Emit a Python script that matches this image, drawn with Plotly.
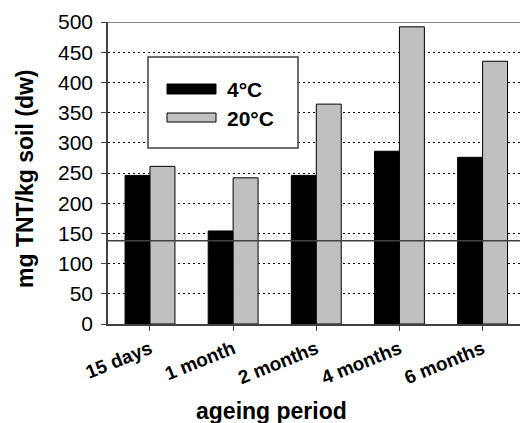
import plotly.graph_objects as go

categories = ["15 days", "1 month", "2 months", "4 months", "6 months"]
series_names = ["4°C", "20°C"]
values_4c = [246, 154, 246, 286, 276]
values_20c = [261, 242, 364, 492, 435]
reference_level = 138
y_ticks = [0, 50, 100, 150, 200, 250, 300, 350, 400, 450, 500]

FONT = "Arial, Liberation Sans, sans-serif"
W, H = 520, 423
L, R, T, B = 108, 0, 22, 99

fig = go.Figure()
fig.add_trace(go.Bar(x=categories, y=values_4c, name=series_names[0],
                     marker=dict(color="#000000", line=dict(color="#000000", width=1))))
fig.add_trace(go.Bar(x=categories, y=values_20c, name=series_names[1],
                     marker=dict(color="#C0C0C0", line=dict(color="#000000", width=1))))

def px_x(px):
    return (px - L) / (W - L - R)

def px_y(py):
    return 1 - (py - T) / (H - T - B)

shapes = [
    dict(type="line", xref="paper", yref="y", x0=0, x1=1, y0=reference_level, y1=reference_level,
         line=dict(color="#404040", width=1.5), layer="above"),
    dict(type="line", xref="paper", yref="y", x0=0, x1=1, y0=500, y1=500,
         line=dict(color="#606060", width=1.5), layer="above"),
    dict(type="rect", xref="paper", yref="paper", x0=px_x(148), x1=px_x(298), y0=px_y(148), y1=px_y(57),
         fillcolor="white", line=dict(color="#404040", width=1.5), layer="above"),
    dict(type="rect", xref="paper", yref="paper", x0=px_x(167), x1=px_x(216), y0=px_y(94), y1=px_y(84),
         fillcolor="#000000", line=dict(color="#000000", width=1), layer="above"),
    dict(type="rect", xref="paper", yref="paper", x0=px_x(167), x1=px_x(216), y0=px_y(122), y1=px_y(113),
         fillcolor="#C0C0C0", line=dict(color="#000000", width=1), layer="above"),
]

annotations = [
    dict(text="<b>%s</b>" % series_names[0], xref="paper", yref="paper", x=px_x(225), y=px_y(89),
         xanchor="left", yanchor="middle", showarrow=False, font=dict(family=FONT, size=21, color="black")),
    dict(text="<b>%s</b>" % series_names[1], xref="paper", yref="paper", x=px_x(225), y=px_y(118),
         xanchor="left", yanchor="middle", showarrow=False, font=dict(family=FONT, size=21, color="black")),
    dict(text="<b>ageing period</b>", xref="paper", yref="paper", x=px_x(271), y=px_y(411),
         xanchor="center", yanchor="middle", showarrow=False, font=dict(family=FONT, size=23, color="black")),
    dict(text="<b>mg TNT/kg soil (dw)</b>", xref="paper", yref="paper", x=px_x(25), y=px_y(179),
         xanchor="center", yanchor="middle", textangle=-90, showarrow=False,
         font=dict(family=FONT, size=23, color="black")),
]

fig.update_layout(
    width=W, height=H,
    margin=dict(l=L, r=R, t=T, b=B, pad=0),
    paper_bgcolor="white", plot_bgcolor="white",
    barmode="group", bargap=0.4, bargroupgap=0,
    showlegend=False,
    shapes=shapes, annotations=annotations,
    font=dict(family=FONT, color="black"),
    xaxis=dict(range=[-0.505, 4.45], showgrid=False, showline=True, linecolor="#404040", linewidth=1.5,
               ticks="outside", ticklen=5, tickcolor="#404040", tickangle=-22,
               tickfont=dict(family=FONT, size=19, color="black", weight="bold"), zeroline=False),
    yaxis=dict(range=[0, 500], tickvals=y_ticks, showgrid=True, gridcolor="#000000", gridwidth=1,
               griddash="2px,3px", showline=True, linecolor="#404040", linewidth=1.5,
               ticks="outside", ticklen=5, tickcolor="#404040", ticklabelstandoff=4,
               tickfont=dict(family=FONT, size=21, color="black"), zeroline=False),
)

fig.write_html("out.html", config={"displayModeBar": False},
               post_script="document.body.style.margin='0';document.body.style.overflow='hidden';")
